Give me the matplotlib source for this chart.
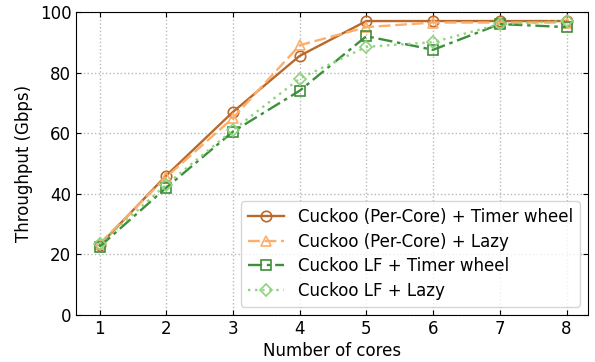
import matplotlib
matplotlib.use("Agg")
import matplotlib.pyplot as plt

cores = [1, 2, 3, 4, 5, 6, 7, 8]
pc_timer = [23, 46, 67, 85.5, 97, 97, 97, 97]
pc_lazy = [23.5, 45.5, 65, 89, 95, 96.5, 96.5, 96.5]
lf_timer = [22.5, 42, 60.5, 74, 92, 87.5, 96, 95]
lf_lazy = [23.5, 43, 61, 78, 88.5, 90, 96, 97]

labels = ["Cuckoo (Per-Core) + Timer wheel", "Cuckoo (Per-Core) + Lazy",
          "Cuckoo LF + Timer wheel", "Cuckoo LF + Lazy"]
colors = ["#b8692b", "#fdae6b", "#3f8f3a", "#8ed47f"]
markers = ["o", "^", "s", "D"]
styles = ["-", (0, (5, 2)), (0, (6, 2, 1.5, 2)), (0, (1, 2))]

fig, ax = plt.subplots(figsize=(5.95, 3.62), dpi=100)
for ys, lab, c, m, ls in zip([pc_timer, pc_lazy, lf_timer, lf_lazy], labels, colors, markers, styles):
    ax.plot(cores, ys, linestyle=ls, marker=m, color=c, label=lab, linewidth=1.7,
            markersize=7.5 if m != "D" else 6.5, markerfacecolor="none", markeredgewidth=1.2)

ax.set_xlim(0.65, 8.32)
ax.set_ylim(0, 100)
ax.set_xticks(cores)
ax.set_yticks([0, 20, 40, 60, 80, 100])
ax.grid(True, linestyle=":", color="#b8b8b8", linewidth=1)
ax.tick_params(direction="in", top=True, right=True, labelsize=12)
ax.set_xlabel("Number of cores", fontsize=12, labelpad=3)
ax.set_ylabel("Throughput (Gbps)", fontsize=12, labelpad=5)
ax.legend(loc="lower right", fontsize=12, handlelength=2.2, borderaxespad=0.5,
          labelspacing=0.4)
fig.subplots_adjust(left=0.128, right=0.988, top=0.967, bottom=0.13)
fig.savefig("out.png")
